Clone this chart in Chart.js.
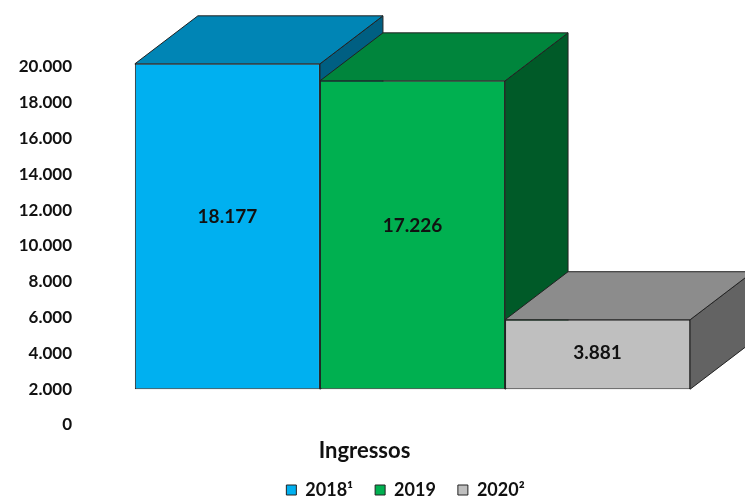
<!DOCTYPE html>
<html>
<head>
<meta charset="utf-8">
<script src="https://cdn.jsdelivr.net/npm/chart.js@4"></script>
<style>
  html, body { margin: 0; padding: 0; background: #fff; }
  #wrap { width: 745px; height: 499px; }
</style>
</head>
<body>
<div id="wrap"><canvas id="grafico"></canvas></div>
<script>
// dados
const categorias = ['Ingressos'];
const anos = ['2018\u00b9', '2019', '2020\u00b2'];
const valores = [18177, 17226, 3881];
const rotulosValores = ['18.177', '17.226', '3.881'];
const tickLabels = ['0', '2.000', '4.000', '6.000', '8.000', '10.000', '12.000', '14.000', '16.000', '18.000', '20.000'];

// cores: frente, topo, lado
const coresFrente = ['#00b0f0', '#00b050', '#bfbfbf'];
const coresTopo = ['#0085b5', '#00853c', '#8c8c8c'];
const coresLado = ['#005f82', '#005a28', '#636363'];

const FONTE = 'Lato, "Open Sans", sans-serif';
const DX = 63, DY = 48; // profundidade do efeito 3D

// desenha topo e lado de cada barra antes das faces da frente
const efeito3D = {
  id: 'efeito3D',
  afterLayout(chart) {
    // legenda um pouco deslocada para a direita, como no original
    const lg = chart.legend;
    lg.left += 33; lg.right += 33;
    lg.top = 459; lg.bottom = 499;
  },
  beforeDatasetsDraw(chart) {
    const ctx = chart.ctx;
    ctx.save();
    ctx.strokeStyle = '#222';
    ctx.lineWidth = 1;
    chart.data.datasets.forEach((ds, i) => {
      const bar = chart.getDatasetMeta(i).data[0];
      const l = bar.x - bar.width / 2, r = bar.x + bar.width / 2;
      const t = bar.y, b = bar.base;
      // lado
      ctx.beginPath();
      ctx.moveTo(r, t); ctx.lineTo(r + DX, t - DY); ctx.lineTo(r + DX, b - DY); ctx.lineTo(r, b);
      ctx.closePath();
      ctx.fillStyle = coresLado[i]; ctx.fill(); ctx.stroke();
      // topo
      ctx.beginPath();
      ctx.moveTo(l, t); ctx.lineTo(l + DX, t - DY); ctx.lineTo(r + DX, t - DY); ctx.lineTo(r, t);
      ctx.closePath();
      ctx.fillStyle = coresTopo[i]; ctx.fill(); ctx.stroke();
    });
    ctx.restore();
  },
  afterDatasetsDraw(chart) {
    const ctx = chart.ctx;
    ctx.save();
    ctx.font = 'bold 19px ' + FONTE;
    ctx.fillStyle = '#111';
    ctx.textAlign = 'center';
    ctx.textBaseline = 'middle';
    chart.data.datasets.forEach((ds, i) => {
      const bar = chart.getDatasetMeta(i).data[0];
      ctx.fillText(rotulosValores[i], bar.x, bar.base - (bar.base - bar.y) * 0.53);
    });
    ctx.restore();
  }
};

const datasets = anos.map((ano, i) => ({
  label: ano,
  data: [valores[i]],
  backgroundColor: coresFrente[i],
  borderColor: '#222',
  borderWidth: 1,
  borderSkipped: false,
  yAxisID: 'y',
  clip: false
}));

new Chart(document.getElementById('grafico').getContext('2d'), {
  type: 'bar',
  data: { labels: categorias, datasets: datasets },
  options: {
    responsive: true,
    maintainAspectRatio: false,
    animation: false,
    layout: { padding: { top: 67, right: 0, left: 0, bottom: 2 } },
    datasets: { bar: { barPercentage: 1, categoryPercentage: 0.835 } },
    scales: {
      x: {
        grid: { display: false },
        border: { display: false },
        afterFit(scale) { scale.height = 37; },
        ticks: { color: '#111', font: { family: FONTE, size: 22, weight: 'bold' }, labelOffset: -48, padding: 5 }
      },
      eixoRotulos: {
        position: 'left',
        min: 0,
        max: 20000,
        grid: { display: false, drawTicks: false },
        border: { display: false },
        afterFit(scale) { scale.width = 80; },
        ticks: {
          stepSize: 2000,
          padding: 8,
          color: '#111',
          font: { family: FONTE, size: 17, weight: 'bold' },
          callback: (v, idx) => tickLabels[idx]
        }
      },
      y: {
        display: false,
        min: -2000,
        max: 18000
      }
    },
    plugins: {
      tooltip: { enabled: false },
      legend: {
        position: 'bottom',
        maxHeight: 35,
        labels: {
          boxWidth: 10,
          boxHeight: 10,
          padding: 22,
          color: '#111',
          font: { family: FONTE, size: 18, weight: 'bold' }
        }
      }
    }
  },
  plugins: [efeito3D]
});
</script>
</body>
</html>
